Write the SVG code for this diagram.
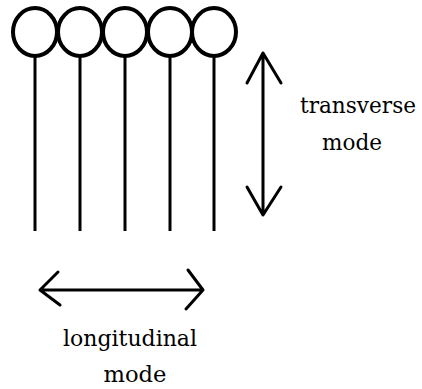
<svg xmlns="http://www.w3.org/2000/svg" width="422" height="389" viewBox="0 0 422 389">
<style>
.bead{fill:none;stroke:#000;stroke-width:4}
.rod{stroke:#000;stroke-width:3}
.arr{fill:none;stroke:#000;stroke-width:3;stroke-linecap:round;stroke-linejoin:round}
.lbl{font-size:22px;fill:#000;text-anchor:middle}
</style>
<rect width="422" height="389" fill="#fff"/>
<g id="chain">
<g id="p1"><line class="rod" x1="35" y1="56" x2="35" y2="231"/><ellipse class="bead" cx="35" cy="32" rx="22" ry="24"/></g>
<g id="p2"><line class="rod" x1="80" y1="56" x2="80" y2="231"/><ellipse class="bead" cx="80" cy="32" rx="22" ry="24"/></g>
<g id="p3"><line class="rod" x1="125" y1="56" x2="125" y2="231"/><ellipse class="bead" cx="125" cy="32" rx="22" ry="24"/></g>
<g id="p4"><line class="rod" x1="170" y1="56" x2="170" y2="231"/><ellipse class="bead" cx="170" cy="32" rx="22" ry="24"/></g>
<g id="p5"><line class="rod" x1="214" y1="56" x2="214" y2="231"/><ellipse class="bead" cx="214" cy="32" rx="22" ry="24"/></g>
</g>
<g id="connectors">
<path class="arr" d="M263 53 V214 M247 83 L263 53 L281 83 M247 187 L263 215 L281 187"/>
<path class="arr" d="M40 290 H203 M58 272 L40 290 L60 305 M188 270 L203 290 L186 309"/>
</g>
<g id="labels" font-family="DejaVu Serif, serif">
<text class="lbl" x="358" y="113" textLength="116" lengthAdjust="spacingAndGlyphs">transverse</text>
<text class="lbl" x="352" y="150" textLength="60" lengthAdjust="spacingAndGlyphs">mode</text>
<text class="lbl" x="130" y="346" textLength="134" lengthAdjust="spacingAndGlyphs">longitudinal</text>
<text class="lbl" x="135" y="382" textLength="63" lengthAdjust="spacingAndGlyphs">mode</text>
</g>
</svg>
